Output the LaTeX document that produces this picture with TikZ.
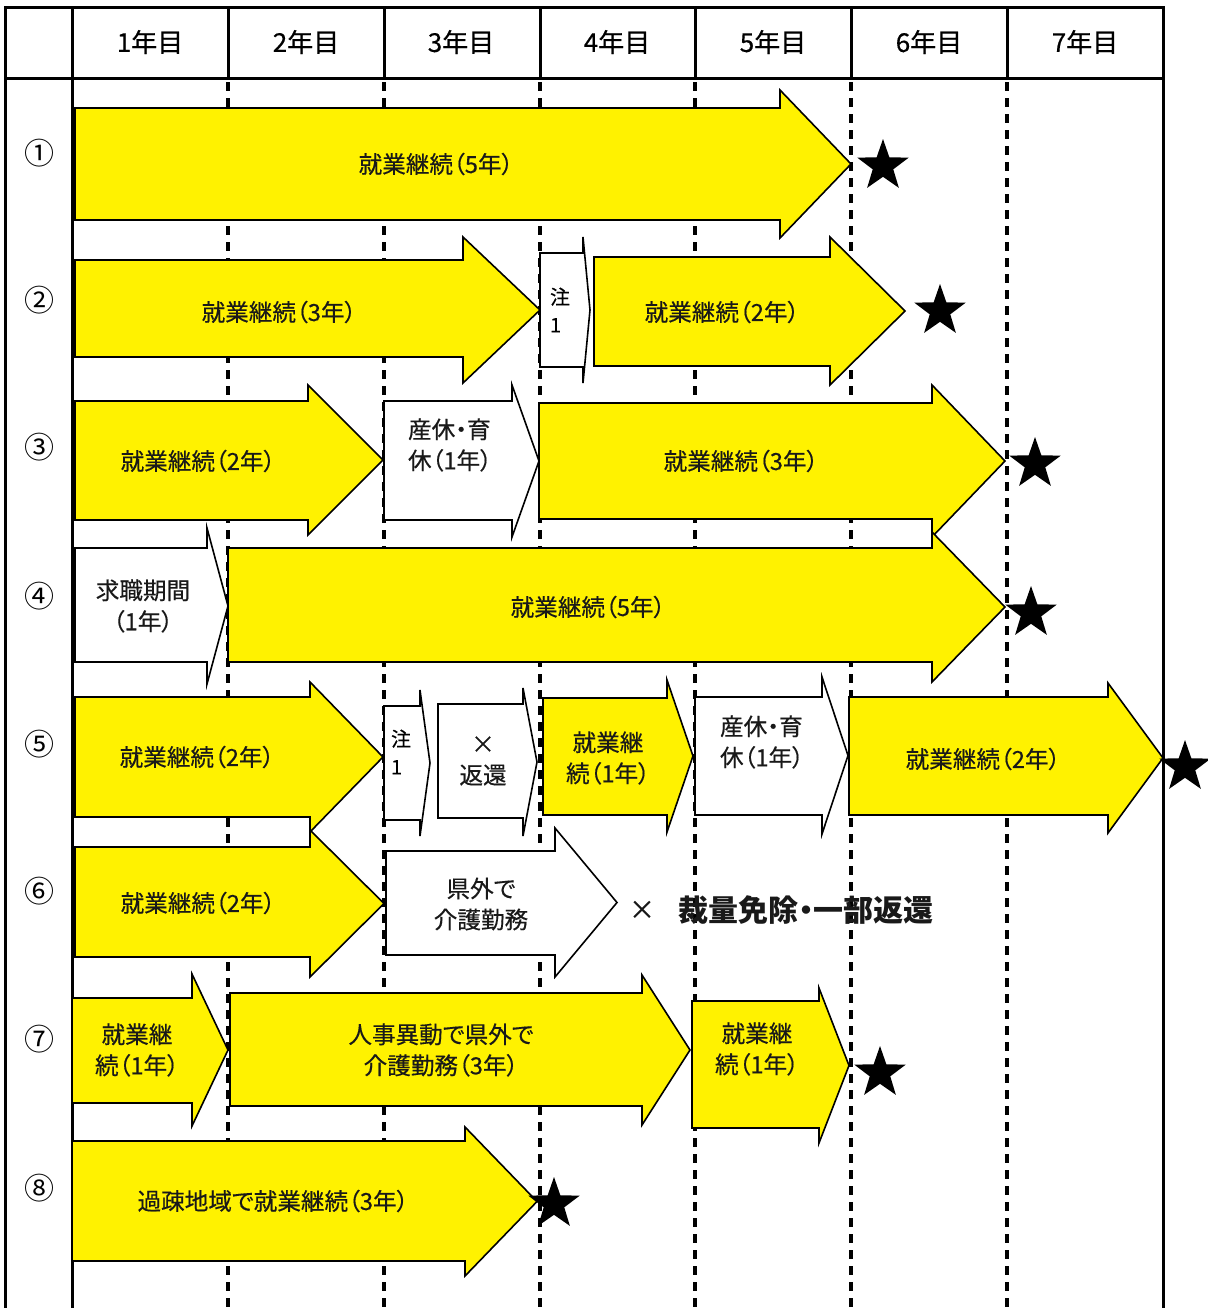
\documentclass[tikz,border=0pt]{standalone}
\usepackage{fontspec}
\setmainfont[RawFeature=+palt]{Noto Sans CJK JP}
\newfontfamily\medfont[RawFeature=+palt,FakeBold=0.4]{Noto Sans CJK JP}
\usetikzlibrary{shapes.geometric}
\newcommand\blockarrow[8]{%
  \draw[#1] (#2,#5) -- (#3,#5) -- (#3,#7) -- (#4,{(#7+#8)/2}) -- (#3,#8) -- (#3,#6) -- (#2,#6) -- cycle;}
\begin{document}
\begin{tikzpicture}[x=0.5pt,y=-0.5pt,
  gridline/.style={line width=1.5pt,black},
  dashline/.style={line width=1.7pt,black,dash pattern=on 4.5pt off 3.5pt},
  yarrow/.style={fill=yellow,draw=black,line width=0.8pt,line join=miter},
  warrow/.style={fill=white,draw=black,line width=0.8pt,line join=miter},
  lbl/.style={font=\medfont\fontsize{11.8pt}{15.5pt}\selectfont,inner sep=0pt,align=center,text=black!90},
  hdr/.style={font=\medfont\fontsize{13pt}{14pt}\selectfont,inner sep=0pt},
  rownum/.style={font=\fontsize{15pt}{16pt}\selectfont,inner sep=0pt},
  note/.style={font=\medfont\fontsize{10pt}{14pt}\selectfont,inner sep=0pt,align=left},
  goal/.style={star,star points=5,star point ratio=2.5,fill=black,draw=none,minimum size=27pt,inner sep=0pt}]
\useasboundingbox (0,0) rectangle (1207,1308);
\fill[white] (0,0) rectangle (1207,1308);
% grid
\foreach \x in {228,384,540,695,851,1007}{
  \draw[dashline] (\x,82) -- (\x,1308);
  \draw[gridline] (\x,7) -- (\x,78);}
\draw[gridline] (5,1308) -- (5,7) -- (1163,7) -- (1163,1308);
\draw[gridline] (5,78) -- (1163,78);
\draw[gridline] (72,7) -- (72,1308);
% headers
\node[hdr] (h1) at (150,42) {1年目};
\node[hdr] (h2) at (306,42) {2年目};
\node[hdr] (h3) at (461,42) {3年目};
\node[hdr] (h4) at (617,42) {4年目};
\node[hdr] (h5) at (773,42) {5年目};
\node[hdr] (h6) at (929,42) {6年目};
\node[hdr] (h7) at (1085,42) {7年目};
% row numbers
\node[rownum] (r1) at (40,153) {①};
\node[rownum] (r2) at (40,300) {②};
\node[rownum] (r3) at (40,447) {③};
\node[rownum] (r4) at (40,596) {④};
\node[rownum] (r5) at (40,744) {⑤};
\node[rownum] (r6) at (40,891) {⑥};
\node[rownum] (r7) at (40,1039) {⑦};
\node[rownum] (r8) at (40,1188) {⑧};
% row 1
\blockarrow{yarrow}{75}{780}{851}{108}{220}{90}{238}
\node[lbl] (t1) at (436,164) {就業継続（5年）};
\node[goal] (s1) at (883,166) {};
% row 2
\blockarrow{yarrow}{75}{463}{540}{260}{357}{237}{383}
\node[lbl] (t2a) at (279,312) {就業継続（3年）};
\blockarrow{warrow}{540}{583}{590}{253}{367}{237}{383}
\node[note] (t2n) at (560,310) {注\\1};
\blockarrow{yarrow}{594}{830}{905}{257}{366}{237}{385}
\node[lbl] (t2b) at (722,312) {就業継続（2年）};
\node[goal] (s2) at (940,311) {};
% row 3
\blockarrow{yarrow}{75}{308}{383}{401}{520}{385}{535}
\node[lbl] (t3a) at (198,461) {就業継続（2年）};
\blockarrow{warrow}{384}{512}{539}{401}{520}{385}{537}
\node[lbl,align=left] (t3b) at (450,445) {産休・育\\休（1年）};
\blockarrow{yarrow}{539}{932}{1005}{403}{519}{385}{537}
\node[lbl] (t3c) at (741,461) {就業継続（3年）};
\node[goal] (s3) at (1035,464) {};
% row 4
\blockarrow{warrow}{75}{207}{228}{548}{662}{528}{684}
\node[lbl] (t4a) at (143,606) {求職期間\\（1年）};
\blockarrow{yarrow}{228}{932}{1005}{548}{662}{532}{682}
\node[lbl] (t4b) at (588,607) {就業継続（5年）};
\node[goal] (s4) at (1031,613) {};
% row 5
\blockarrow{yarrow}{75}{310}{383}{697}{817}{682}{832}
\node[lbl] (t5a) at (197,757) {就業継続（2年）};
\blockarrow{warrow}{384}{420}{430}{706}{820}{690}{836}
\node[note] (t5n) at (401,752) {注\\1};
\blockarrow{warrow}{438}{523}{537}{704}{818}{688}{836}
\node[lbl] (t5b) at (483,761) {×\\返還};
\blockarrow{yarrow}{543}{667}{693}{698}{815}{680}{832}
\node[lbl] (t5c) at (608,758) {就業継\\続（1年）};
\blockarrow{warrow}{695}{822}{848}{697}{815}{677}{834}
\node[lbl,align=left] (t5d) at (762,742) {産休・育\\休（1年）};
\blockarrow{yarrow}{849}{1108}{1163}{697}{815}{683}{833}
\node[lbl] (t5e) at (983,759) {就業継続（2年）};
\node[goal] (s5) at (1185,767) {};
% row 6
\blockarrow{yarrow}{75}{310}{384}{847}{957}{830}{977}
\node[lbl] (t6a) at (198,903) {就業継続（2年）};
\blockarrow{warrow}{386}{555}{617}{851}{955}{828}{977}
\node[lbl] (t6b) at (481,904) {県外で\\介護勤務};
\node[lbl,font=\medfont\fontsize{13pt}{14pt}\selectfont] (t6x) at (642,910) {×};
\node[lbl,font=\bfseries\fontsize{15pt}{16pt}\selectfont] (t6c) at (806,910) {裁量免除・一部返還};
% row 7
\blockarrow{yarrow}{72}{192}{228}{998}{1103}{974}{1126}
\node[lbl] (t7a) at (137,1050) {就業継\\続（1年）};
\blockarrow{yarrow}{230}{642}{690}{993}{1106}{975}{1125}
\node[lbl] (t7b) at (441,1050) {人事異動で県外で\\介護勤務（3年）};
\blockarrow{yarrow}{692}{819}{849}{1001}{1128}{988}{1143}
\node[lbl] (t7c) at (757,1049) {就業継\\続（1年）};
\node[goal] (s7) at (880,1073) {};
% row 8
\blockarrow{yarrow}{72}{465}{537}{1141}{1261}{1127}{1276}
\node[lbl] (t8) at (273,1201) {過疎地域で就業継続（3年）};
\node[goal] (s8) at (554,1204) {};
\end{tikzpicture}
\end{document}
